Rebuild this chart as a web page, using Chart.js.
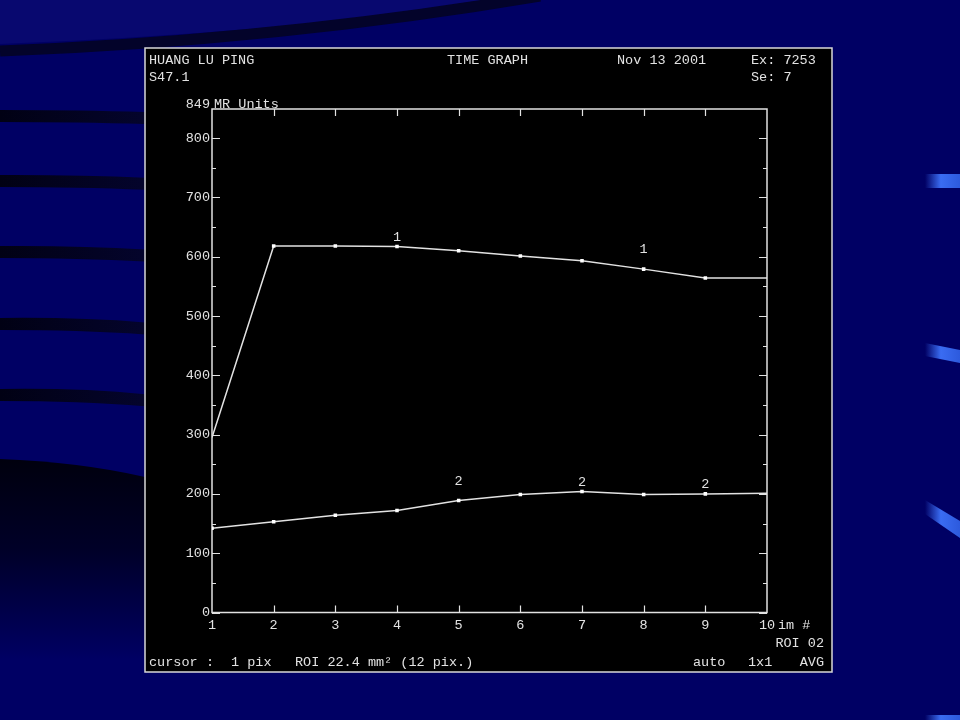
<!DOCTYPE html>
<html>
<head>
<meta charset="utf-8">
<title>TIME GRAPH</title>
<script src="https://cdn.jsdelivr.net/npm/chart.js@4/dist/chart.umd.min.js"></script>
<style>
  body { margin: 0; background: #000064; }
  #timeGraph { display: block; }
</style>
</head>
<body>
<canvas id="timeGraph" width="960" height="720"></canvas>
<script>
const imageNo = [1, 2, 3, 4, 5, 6, 7, 8, 9, 10];
const roi1 = [295, 618, 618, 617, 610, 601, 593, 579, 564, 564];
const roi2 = [142, 153, 164, 172, 189, 199, 204, 199, 200, 201];
const roi1Marks = [0, 2.5, 2.5, 2.5, 2.5, 2.5, 2.5, 2.5, 2.5, 0];
const roi2Marks = [2.5, 2.5, 2.5, 2.5, 2.5, 2.5, 2.5, 2.5, 2.5, 0];
const yTickValues = [0, 100, 200, 300, 400, 500, 600, 700, 800];
const yTop = 849;
const roiTags = [
  { ds: 0, im: 4, lift: 9 },
  { ds: 0, im: 8, lift: 20 },
  { ds: 1, im: 5, lift: 19 },
  { ds: 1, im: 7, lift: 9 },
  { ds: 1, im: 9, lift: 9 }
];

const ink = '#e2e2e2';
const mono = "'Liberation Mono', 'DejaVu Sans Mono', monospace";
const fontSize = 13.5;
const ctxEl = document.getElementById('timeGraph');

// SLIDE BACKGROUND
function paintSlide(ctx) {
  ctx.save();
  ctx.fillStyle = '#000064';
  ctx.fillRect(0, 0, 960, 720);

  // lighter sweep top-left
  ctx.fillStyle = '#08086f';
  ctx.beginPath();
  ctx.moveTo(0, 0);
  ctx.lineTo(530, 0);
  ctx.quadraticCurveTo(260, 34, 0, 44);
  ctx.closePath();
  ctx.fill();

  // dark sweep edge
  ctx.strokeStyle = '#03032a';
  ctx.lineWidth = 11;
  ctx.beginPath();
  ctx.moveTo(0, 51);
  ctx.quadraticCurveTo(280, 40, 540, -4);
  ctx.stroke();

  // dark stripes on the left
  [116, 181, 252, 324, 395].forEach(function(y, i) {
    let g = ctx.createLinearGradient(0, 0, 145, 0);
    g.addColorStop(0, '#010114');
    g.addColorStop(1, '#04042c');
    ctx.fillStyle = g;
    ctx.beginPath();
    ctx.moveTo(0, y - 6);
    ctx.quadraticCurveTo(80, y - 6 - i * 0.3, 145, y - 4 + i * 0.8);
    ctx.lineTo(145, y + 8 + i * 0.8);
    ctx.quadraticCurveTo(80, y + 6, 0, y + 6);
    ctx.closePath();
    ctx.fill();
  });

  // dark band lower left
  let dg = ctx.createLinearGradient(0, 460, 0, 660);
  dg.addColorStop(0, '#00000e');
  dg.addColorStop(0.45, '#000028');
  dg.addColorStop(1, '#000064');
  ctx.fillStyle = dg;
  ctx.beginPath();
  ctx.moveTo(0, 459);
  ctx.quadraticCurveTo(80, 462, 145, 477);
  ctx.lineTo(145, 680);
  ctx.lineTo(0, 680);
  ctx.closePath();
  ctx.fill();

  // blue bars on the right
  let bars = [
    [[925, 174], [960, 174], [960, 188], [925, 188]],
    [[925, 343], [960, 350], [960, 363], [925, 356]],
    [[925, 500], [960, 521], [960, 538], [925, 514]],
    [[925, 715], [960, 715], [960, 720], [925, 720]]
  ];
  bars.forEach(function(b) {
    let g = ctx.createLinearGradient(925, 0, 960, 0);
    g.addColorStop(0, '#000064');
    g.addColorStop(0.45, '#3a6cf2');
    g.addColorStop(1, '#2d5add');
    ctx.fillStyle = g;
    ctx.beginPath();
    ctx.moveTo(b[0][0], b[0][1]);
    for (let k = 1; k < b.length; k++) ctx.lineTo(b[k][0], b[k][1]);
    ctx.closePath();
    ctx.fill();
  });

  // scanner screen
  ctx.fillStyle = '#000000';
  ctx.fillRect(145, 48, 687, 624);
  ctx.strokeStyle = '#d8d8d8';
  ctx.lineWidth = 1.5;
  ctx.strokeRect(145, 48, 687, 624);
  ctx.restore();
}

function say(ctx, text, x, y, align) {
  ctx.textAlign = align || 'left';
  ctx.fillText(text, x, y);
}

// PLUGIN: background, frame, inward ticks and screen text
const screenPlugin = {
  id: 'screen',
  beforeDraw: function(chart) {
    paintSlide(chart.ctx);
  },
  beforeDatasetsDraw: function(chart) {
    const ctx = chart.ctx;
    const a = chart.chartArea;
    const xs = chart.scales.x;
    const ys = chart.scales.y;
    ctx.save();
    ctx.strokeStyle = ink;
    ctx.lineWidth = 1.5;
    ctx.strokeRect(a.left, a.top, a.right - a.left, a.bottom - a.top);
    ctx.lineWidth = 1.2;
    ctx.beginPath();
    for (let v = 0; v <= 800; v += 50) {
      let py = Math.round(ys.getPixelForValue(v)) + 0.5;
      let len = v % 100 === 0 ? 8 : 4;
      ctx.moveTo(a.left, py); ctx.lineTo(a.left + len, py);
      ctx.moveTo(a.right, py); ctx.lineTo(a.right - len, py);
    }
    for (let i = 1; i < imageNo.length - 1; i++) {
      let px = Math.round(xs.getPixelForValue(imageNo[i])) + 0.5;
      ctx.moveTo(px, a.top); ctx.lineTo(px, a.top + 7);
      ctx.moveTo(px, a.bottom); ctx.lineTo(px, a.bottom - 7);
    }
    ctx.stroke();
    ctx.restore();
  },
  afterDraw: function(chart) {
    const ctx = chart.ctx;
    const a = chart.chartArea;
    const xs = chart.scales.x;
    const ys = chart.scales.y;
    ctx.save();
    ctx.fillStyle = ink;
    ctx.font = fontSize + 'px ' + mono;
    ctx.textBaseline = 'middle';
    // header
    say(ctx, 'HUANG LU PING', 149, 60);
    say(ctx, 'S47.1', 149, 77);
    say(ctx, 'TIME GRAPH', 447, 60);
    say(ctx, 'Nov 13 2001', 617, 60);
    say(ctx, 'Ex: 7253', 751, 60);
    say(ctx, 'Se: 7', 751, 77);
    // axis captions
    say(ctx, String(yTop), a.left - 2, 104, 'right');
    say(ctx, 'MR Units', a.left + 2, 104);
    say(ctx, 'im #', 778, 625);
    // footer
    say(ctx, 'ROI 02', 824, 643, 'right');
    say(ctx, 'cursor', 149, 662);
    say(ctx, ':', 206, 662);
    say(ctx, '1 pix', 231, 662);
    say(ctx, 'ROI 22.4 mm² (12 pix.)', 295, 662);
    say(ctx, 'auto', 693, 662);
    say(ctx, '1x1', 748, 662);
    say(ctx, 'AVG', 824, 662, 'right');
    // ROI tags along the curves
    roiTags.forEach(function(t) {
      let series = t.ds === 0 ? roi1 : roi2;
      let idx = imageNo.indexOf(t.im);
      let px = xs.getPixelForValue(t.im);
      let py = ys.getPixelForValue(series[idx]);
      say(ctx, String(t.ds + 1), px, py - t.lift, 'center');
    });
    ctx.restore();
  }
};

function toPoints(values) {
  return values.map(function(v, i) { return { x: imageNo[i], y: v }; });
}

const graphConfig = {
  type: 'line',
  data: {
    datasets: [{
      label: 'ROI 1',
      data: toPoints(roi1),
      borderColor: ink,
      backgroundColor: '#ffffff',
      borderWidth: 1.5,
      pointStyle: 'rect',
      pointRadius: roi1Marks,
      pointBorderWidth: 0,
      tension: 0,
      fill: false
    }, {
      label: 'ROI 2',
      data: toPoints(roi2),
      borderColor: ink,
      backgroundColor: '#ffffff',
      borderWidth: 1.5,
      pointStyle: 'rect',
      pointRadius: roi2Marks,
      pointBorderWidth: 0,
      tension: 0,
      fill: false
    }]
  },
  options: {
    responsive: false,
    animation: false,
    layout: { padding: { left: 182, right: 193, top: 109, bottom: 87.5 } },
    scales: {
      x: {
        type: 'linear',
        min: imageNo[0],
        max: imageNo[imageNo.length - 1],
        ticks: {
          stepSize: 1,
          color: ink,
          font: { family: mono, size: fontSize },
          padding: 5,
          maxRotation: 0,
          autoSkip: false
        },
        grid: { display: false, drawTicks: false },
        border: { display: false },
        afterFit: function(scale) { scale.height = 20; }
      },
      y: {
        min: 0,
        max: yTop,
        afterBuildTicks: function(scale) {
          scale.ticks = yTickValues.map(function(v) { return { value: v }; });
        },
        ticks: {
          color: ink,
          font: { family: mono, size: fontSize },
          padding: 2,
          autoSkip: false
        },
        grid: { display: false, drawTicks: false },
        border: { display: false },
        afterFit: function(scale) { scale.width = 30; }
      }
    },
    plugins: {
      legend: { display: false },
      tooltip: { enabled: false }
    }
  },
  plugins: [screenPlugin]
};

const timeChart = new Chart(ctxEl, graphConfig);
</script>
</body>
</html>
